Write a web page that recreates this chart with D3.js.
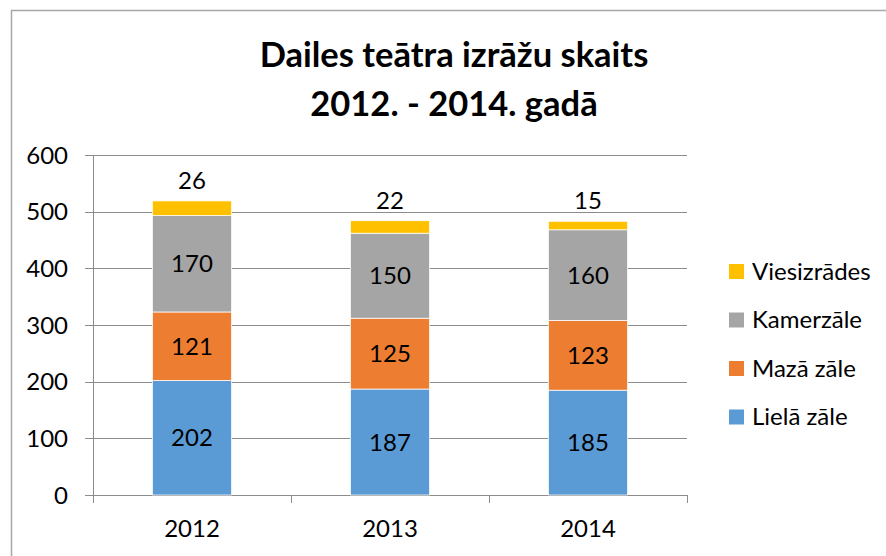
<!DOCTYPE html>
<html>
<head>
<meta charset="utf-8">
<script src="https://cdn.jsdelivr.net/npm/d3@7"></script>
<style>
  body { margin: 0; background: #fff; }
  svg text { font-family: Lato, "Open Sans", sans-serif; fill: #000; }
</style>
</head>
<body>
<div id="chart"></div>
<script>
// data
const years = ["2012", "2013", "2014"];
const series = ["Lielā zāle", "Mazā zāle", "Kamerzāle", "Viesizrādes"];
const lielaZale = [202, 187, 185];
const mazaZale = [121, 125, 123];
const kamerzale = [170, 150, 160];
const viesizrades = [26, 22, 15];
const yTicks = [0, 100, 200, 300, 400, 500, 600];
const colors = ["#5b9bd5", "#ed7d31", "#a5a5a5", "#ffc000"];

const W = 886, H = 556;
const plot = {left: 93, right: 687, top: 155, bottom: 495};

const svg = d3.select("#chart").append("svg")
    .attr("width", W)
    .attr("height", H);

// chart border (only left and top visible in the crop)
svg.append("rect")
    .attr("x", 11.5).attr("y", 10.5)
    .attr("width", 900).attr("height", 600)
    .attr("fill", "none")
    .attr("stroke", "#a6a6a6")
    .attr("stroke-width", 1.5);

// title
const title = svg.append("text")
    .attr("text-anchor", "middle")
    .attr("font-weight", "bold")
    .attr("font-size", "34.5px");
title.append("tspan").attr("x", 454).attr("y", 67).text("Dailes teātra izrāžu skaits");
title.append("tspan").attr("x", 454).attr("y", 116).text("2012. - 2014. gadā");

const x = d3.scaleBand()
    .domain(years)
    .range([plot.left, plot.right])
    .padding(0);

const y = d3.scaleLinear()
    .domain([0, 600])
    .range([plot.bottom, plot.top]);

// gridlines
svg.append("g")
    .selectAll("line")
    .data(yTicks)
    .join("line")
      .attr("x1", plot.left - 8)
      .attr("x2", plot.right)
      .attr("y1", d => Math.round(y(d)) + 0.5)
      .attr("y2", d => Math.round(y(d)) + 0.5)
      .attr("stroke", "#8c8c8c")
      .attr("stroke-width", 1);

// y axis line
svg.append("line")
    .attr("x1", plot.left + 0.5).attr("x2", plot.left + 0.5)
    .attr("y1", plot.top).attr("y2", plot.bottom)
    .attr("stroke", "#8c8c8c");

// y tick labels
svg.append("g")
    .selectAll("text")
    .data(yTicks)
    .join("text")
      .attr("x", 68)
      .attr("y", d => y(d) + 8.5)
      .attr("text-anchor", "end")
      .attr("font-size", "24px")
      .text(d => d);

// x category boundary ticks
const bounds = years.map(d => x(d)).concat([plot.right]);
svg.append("g")
    .selectAll("line")
    .data(bounds)
    .join("line")
      .attr("x1", d => Math.round(d) + 0.5)
      .attr("x2", d => Math.round(d) + 0.5)
      .attr("y1", plot.bottom)
      .attr("y2", plot.bottom + 8)
      .attr("stroke", "#8c8c8c");

// x labels
svg.append("g")
    .selectAll("text")
    .data(years)
    .join("text")
      .attr("x", d => x(d) + x.bandwidth() / 2)
      .attr("y", 537)
      .attr("text-anchor", "middle")
      .attr("font-size", "24px")
      .text(d => d);

// stack
const table = years.map((yr, i) => ({
  year: yr,
  "Lielā zāle": lielaZale[i],
  "Mazā zāle": mazaZale[i],
  "Kamerzāle": kamerzale[i],
  "Viesizrādes": viesizrades[i]
}));
const stacked = d3.stack().keys(series)(table);
const color = d3.scaleOrdinal().domain(series).range(colors);

const barW = x.bandwidth() * 0.4;

const layers = svg.append("g")
    .selectAll("g")
    .data(stacked)
    .join("g")
      .attr("fill", d => color(d.key));

layers.selectAll("rect")
    .data(d => d)
    .join("rect")
      .attr("x", d => x(d.data.year) + (x.bandwidth() - barW) / 2)
      .attr("y", d => y(d[1]))
      .attr("width", barW)
      .attr("height", d => y(d[0]) - y(d[1]))
      .attr("stroke", "#fff")
      .attr("stroke-width", 0.75);

// value labels
layers.selectAll("text")
    .data(d => d.map(v => ({v, key: d.key})))
    .join("text")
      .attr("x", d => x(d.v.data.year) + x.bandwidth() / 2)
      .attr("y", d => d.key === "Viesizrādes"
          ? y(d.v[1]) - 12
          : (y(d.v[0]) + y(d.v[1])) / 2 + 8.5)
      .attr("text-anchor", "middle")
      .attr("font-size", "24px")
      .attr("fill", "#000")
      .text(d => d.v.data[d.key]);

// legend
const legendItems = series.slice().reverse();
const legend = svg.append("g")
    .selectAll("g")
    .data(legendItems)
    .join("g")
      .attr("transform", (d, i) => `translate(729, ${264 + i * 48.5})`);
legend.append("rect")
    .attr("width", 15).attr("height", 15)
    .attr("fill", d => color(d));
legend.append("text")
    .attr("x", 23)
    .attr("y", 15.5)
    .attr("font-size", "24px")
    .text(d => d);
</script>
</body>
</html>
